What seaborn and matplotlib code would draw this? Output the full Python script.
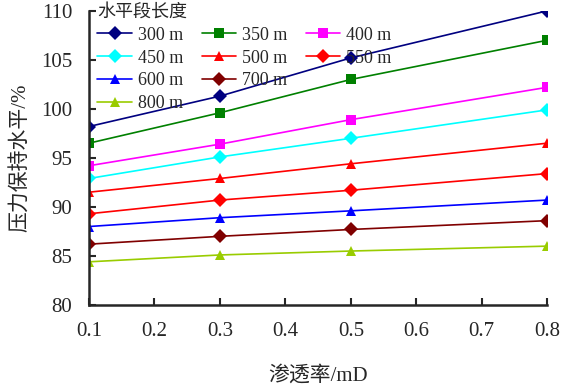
import pandas as pd
import matplotlib.pyplot as plt
import seaborn as sns
from matplotlib.lines import Line2D

# permeability (mD)
perm = [0.1, 0.3, 0.5, 0.8]
lengths = ["300 m", "350 m", "400 m", "450 m", "500 m", "550 m", "600 m", "700 m", "800 m"]

# pressure maintenance level (%) for each horizontal length
p300 = [98.2, 101.3, 105.2, 110.0]
p350 = [96.5, 99.6, 103.0, 107.0]
p400 = [94.2, 96.4, 98.9, 102.2]
p450 = [92.9, 95.1, 97.0, 99.9]
p500 = [91.5, 92.9, 94.4, 96.5]
p550 = [89.3, 90.7, 91.7, 93.4]
p600 = [88.0, 88.9, 89.6, 90.7]
p700 = [86.2, 87.0, 87.7, 88.6]
p800 = [84.4, 85.1, 85.5, 86.0]

colors = ["#000080", "#008000", "#FF00FF", "#00FFFF", "#FF0000",
          "#FF0000", "#0000FF", "#800000", "#99CC00"]
markers = ["D", "s", "s", "D", "^", "D", "^", "D", "^"]


def plot_chart():
    series = [p300, p350, p400, p450, p500, p550, p600, p700, p800]
    rows = []
    for name, vals in zip(lengths, series):
        for x, y in zip(perm, vals):
            rows.append({"perm": x, "level": y, "length": name})
    df = pd.DataFrame(rows)

    sns.set_style("ticks")
    plt.rcParams["font.family"] = ["Liberation Serif", "Noto Sans CJK SC"]

    fig = plt.figure(figsize=(5.63, 3.87), dpi=100)
    ax = fig.add_axes([0.158, 0.212, 0.814, 0.76])

    sns.lineplot(data=df, x="perm", y="level", hue="length", style="length",
                 hue_order=lengths, style_order=lengths,
                 palette=dict(zip(lengths, colors)),
                 markers=dict(zip(lengths, markers)), dashes=False,
                 markersize=7, markeredgewidth=0, linewidth=1.2, ax=ax)

    ax.set_xlim(0.1, 0.8)
    ax.set_ylim(80, 110)
    ax.set_xticks([0.1, 0.2, 0.3, 0.4, 0.5, 0.6, 0.7, 0.8])
    ax.set_yticks([80, 85, 90, 95, 100, 105, 110])
    ax.tick_params(direction="in", labelsize=15, width=1.5, length=5)
    ax.tick_params(axis="x", pad=12)
    ax.tick_params(axis="y", pad=12)
    for s in ["top", "right"]:
        ax.spines[s].set_visible(False)
    for s in ["left", "bottom"]:
        ax.spines[s].set_linewidth(1.8)

    ax.set_xlabel("渗透率/mD", fontsize=15, labelpad=18)
    ax.set_ylabel("压力保持水平/%", fontsize=15, labelpad=8)

    # Excel-style legend: rows 300/350/400, 450/500/550, 600/700, 800
    handles, labels = ax.get_legend_handles_labels()
    blank = Line2D([], [], linestyle="none", marker="none")
    hmap = dict(zip(labels, handles))
    cols = [["300 m", "450 m", "600 m", "800 m"],
            ["350 m", "500 m", "700 m", None],
            ["400 m", "550 m", None, None]]
    hs, ls = [], []
    for col in cols:
        for name in col:
            hs.append(hmap[name] if name else blank)
            ls.append(name if name else "")
    leg = ax.legend(hs, ls, title="水平段长度", ncol=3, loc="upper left",
                    bbox_to_anchor=(-0.005, 1.06), frameon=False,
                    fontsize=13, title_fontsize=13, handlelength=1.9,
                    columnspacing=1.0, labelspacing=0.32, handletextpad=0.35,
                    borderaxespad=0.2)
    leg._legend_box.align = "left"

    fig.savefig("out.png", dpi=100)


if __name__ == "__main__":
    plot_chart()
